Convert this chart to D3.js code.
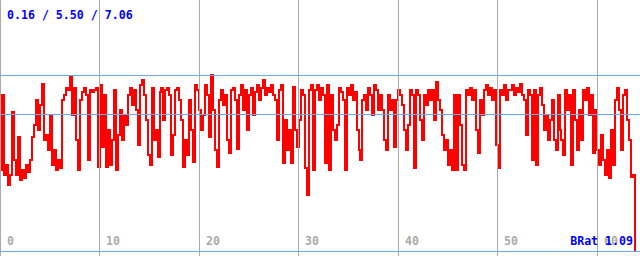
<!DOCTYPE html>
<html>
<head>
<meta charset="utf-8">
<script src="https://cdn.jsdelivr.net/npm/d3@7"></script>
<style>
  html, body { margin: 0; padding: 0; background: #fff; }
  svg { display: block; }
  text { font-family: "DejaVu Sans Mono", "Liberation Mono", monospace; font-weight: bold; font-size: 11.6px; }
</style>
</head>
<body>
<svg width="640" height="256"></svg>
<script>
// summary values shown on the chart
var minVal = 0.16, avgVal = 5.50, maxVal = 7.06;
var bRat = 1.09;

// minutes between samples
var sampleStep = 0.2;

// x ticks (minutes)
var tickMinutes = [0, 10, 20, 30, 40, 50, 60];

// samples, in blocks of ~12.8 minutes
var block1 = [3.34,6.28,3.14,3.53,2.75,3.14,5.61,3.73,3.14,4.63,2.94,3.34,3.02,3.53,3.26,3.73,4.63,5.10,6.08,4.90,5.88,6.71,4.51,4.71,4.12,5.49,3.53,4.12,3.34,3.73,3.41,6.08,6.28,6.55,6.47,6.98,5.49,6.55,4.51,3.34,6.08,6.39,6.55,6.28,3.73,6.47,6.39,6.47,6.55,3.45,6.67,4.24,6.28,3.45,4.90,3.53,4.51,6.47,3.34,4.71,5.69,4.51,5.49,5.10];
var block2 = [6.28,6.55,5.88,6.47,5.69,4.32,6.67,6.86,6.28,5.30,3.92,3.53,6.55,4.51,4.90,3.84,6.39,6.55,5.30,6.47,6.55,6.28,3.92,4.71,6.47,6.55,6.08,5.30,3.45,4.51,3.92,6.08,4.90,3.65,6.67,6.47,5.69,4.90,5.49,6.67,6.28,4.63,7.06,5.69,4.12,3.45,6.08,6.47,5.88,6.28,4.51,4.00,6.47,6.55,6.08,4.16,6.28,6.67,5.69,6.47,4.90,6.28,6.55,5.49];
var block3 = [6.39,6.67,6.08,6.55,6.86,6.28,6.55,6.39,6.67,6.28,6.08,4.51,6.47,6.67,3.61,5.30,4.12,4.90,3.61,6.59,4.90,4.24,5.30,6.47,6.28,3.41,2.36,6.47,6.67,3.34,6.47,6.67,6.08,6.55,6.28,3.61,6.67,3.34,6.28,4.90,4.51,5.10,6.55,6.39,6.08,3.34,6.55,6.28,6.67,6.08,6.39,4.90,4.12,3.73,6.08,6.28,5.69,6.55,6.28,5.49,6.67,6.47,5.69,6.28];
var block4 = [5.69,4.51,4.12,6.28,5.69,6.08,4.24,6.08,6.47,6.28,5.88,4.90,4.12,5.10,6.47,6.28,3.41,6.47,6.28,5.30,4.51,6.28,5.88,6.47,6.08,6.47,5.30,6.78,6.08,5.69,4.71,4.12,4.51,3.53,4.12,3.34,6.28,3.34,6.28,5.10,3.53,3.34,6.47,6.28,6.55,6.08,6.47,4.90,4.00,6.08,5.49,6.47,6.67,6.28,6.55,6.08,6.47,4.32,3.41,6.47,6.28,6.67,6.08,6.47];
var block5 = [6.47,6.67,6.28,6.55,6.39,6.71,6.28,6.08,4.71,6.47,6.28,3.73,6.47,3.53,6.28,6.55,5.88,4.90,5.49,4.51,5.30,6.08,4.51,4.12,6.28,4.90,4.51,3.92,6.47,5.69,6.28,3.53,6.47,5.30,4.12,5.69,4.51,6.47,6.08,6.55,5.49,6.28,4.00,5.69,4.12,3.53,4.71,3.73,3.14,4.12,3.02,4.90,3.53,6.08,6.55,5.69,4.12,6.28,6.47,5.30,4.51,3.06,3.14,0.16];

var values = block1.concat(block2, block3, block4, block5);

var svg = d3.select("svg"),
    width = +svg.attr("width"),
    height = +svg.attr("height");

var x = d3.scaleLinear()
    .domain([0, 64.3])
    .range([0.3, 640.1]);

var y = d3.scaleLinear()
    .domain([minVal, maxVal])
    .range([251, 75]);

function crisp(v) { return Math.floor(v) + 0.5; }

// signal
var line = d3.line()
    .x(function(d, i) { return x(i * sampleStep); })
    .y(function(d) { return y(d); })
    .curve(d3.curveStepAfter);

svg.append("path")
    .datum(values)
    .attr("fill", "none")
    .attr("stroke", "#ff0000")
    .attr("stroke-width", 2)
    .attr("shape-rendering", "crispEdges")
    .attr("d", line);

// vertical grid
svg.selectAll(".vgrid")
  .data(tickMinutes)
  .enter().append("line")
    .attr("class", "vgrid")
    .attr("x1", function(d) { return crisp(x(d)); })
    .attr("x2", function(d) { return crisp(x(d)); })
    .attr("y1", 0)
    .attr("y2", height)
    .attr("stroke", "#aaaaaa")
    .attr("shape-rendering", "crispEdges");

// min / avg / max lines
svg.selectAll(".hline")
  .data([minVal, avgVal, maxVal])
  .enter().append("line")
    .attr("class", "hline")
    .attr("x1", 0)
    .attr("x2", width)
    .attr("y1", function(d) { return crisp(y(d)); })
    .attr("y2", function(d) { return crisp(y(d)); })
    .attr("stroke", "#6fa8e6")
    .attr("shape-rendering", "crispEdges");

// tick labels
svg.selectAll(".tlabel")
  .data(tickMinutes)
  .enter().append("text")
    .attr("class", "tlabel")
    .attr("x", function(d) { return Math.floor(x(d)) + 7; })
    .attr("y", 245)
    .attr("fill", "#aaaaaa")
    .text(function(d) { return d; });

svg.append("text")
    .attr("x", 7)
    .attr("y", 19)
    .attr("fill", "#0000ff")
    .text(minVal.toFixed(2) + " / " + avgVal.toFixed(2) + " / " + maxVal.toFixed(2));

svg.append("text")
    .attr("x", 633)
    .attr("y", 245)
    .attr("text-anchor", "end")
    .attr("fill", "#0000ff")
    .text("BRat " + bRat.toFixed(2));
</script>
</body>
</html>
